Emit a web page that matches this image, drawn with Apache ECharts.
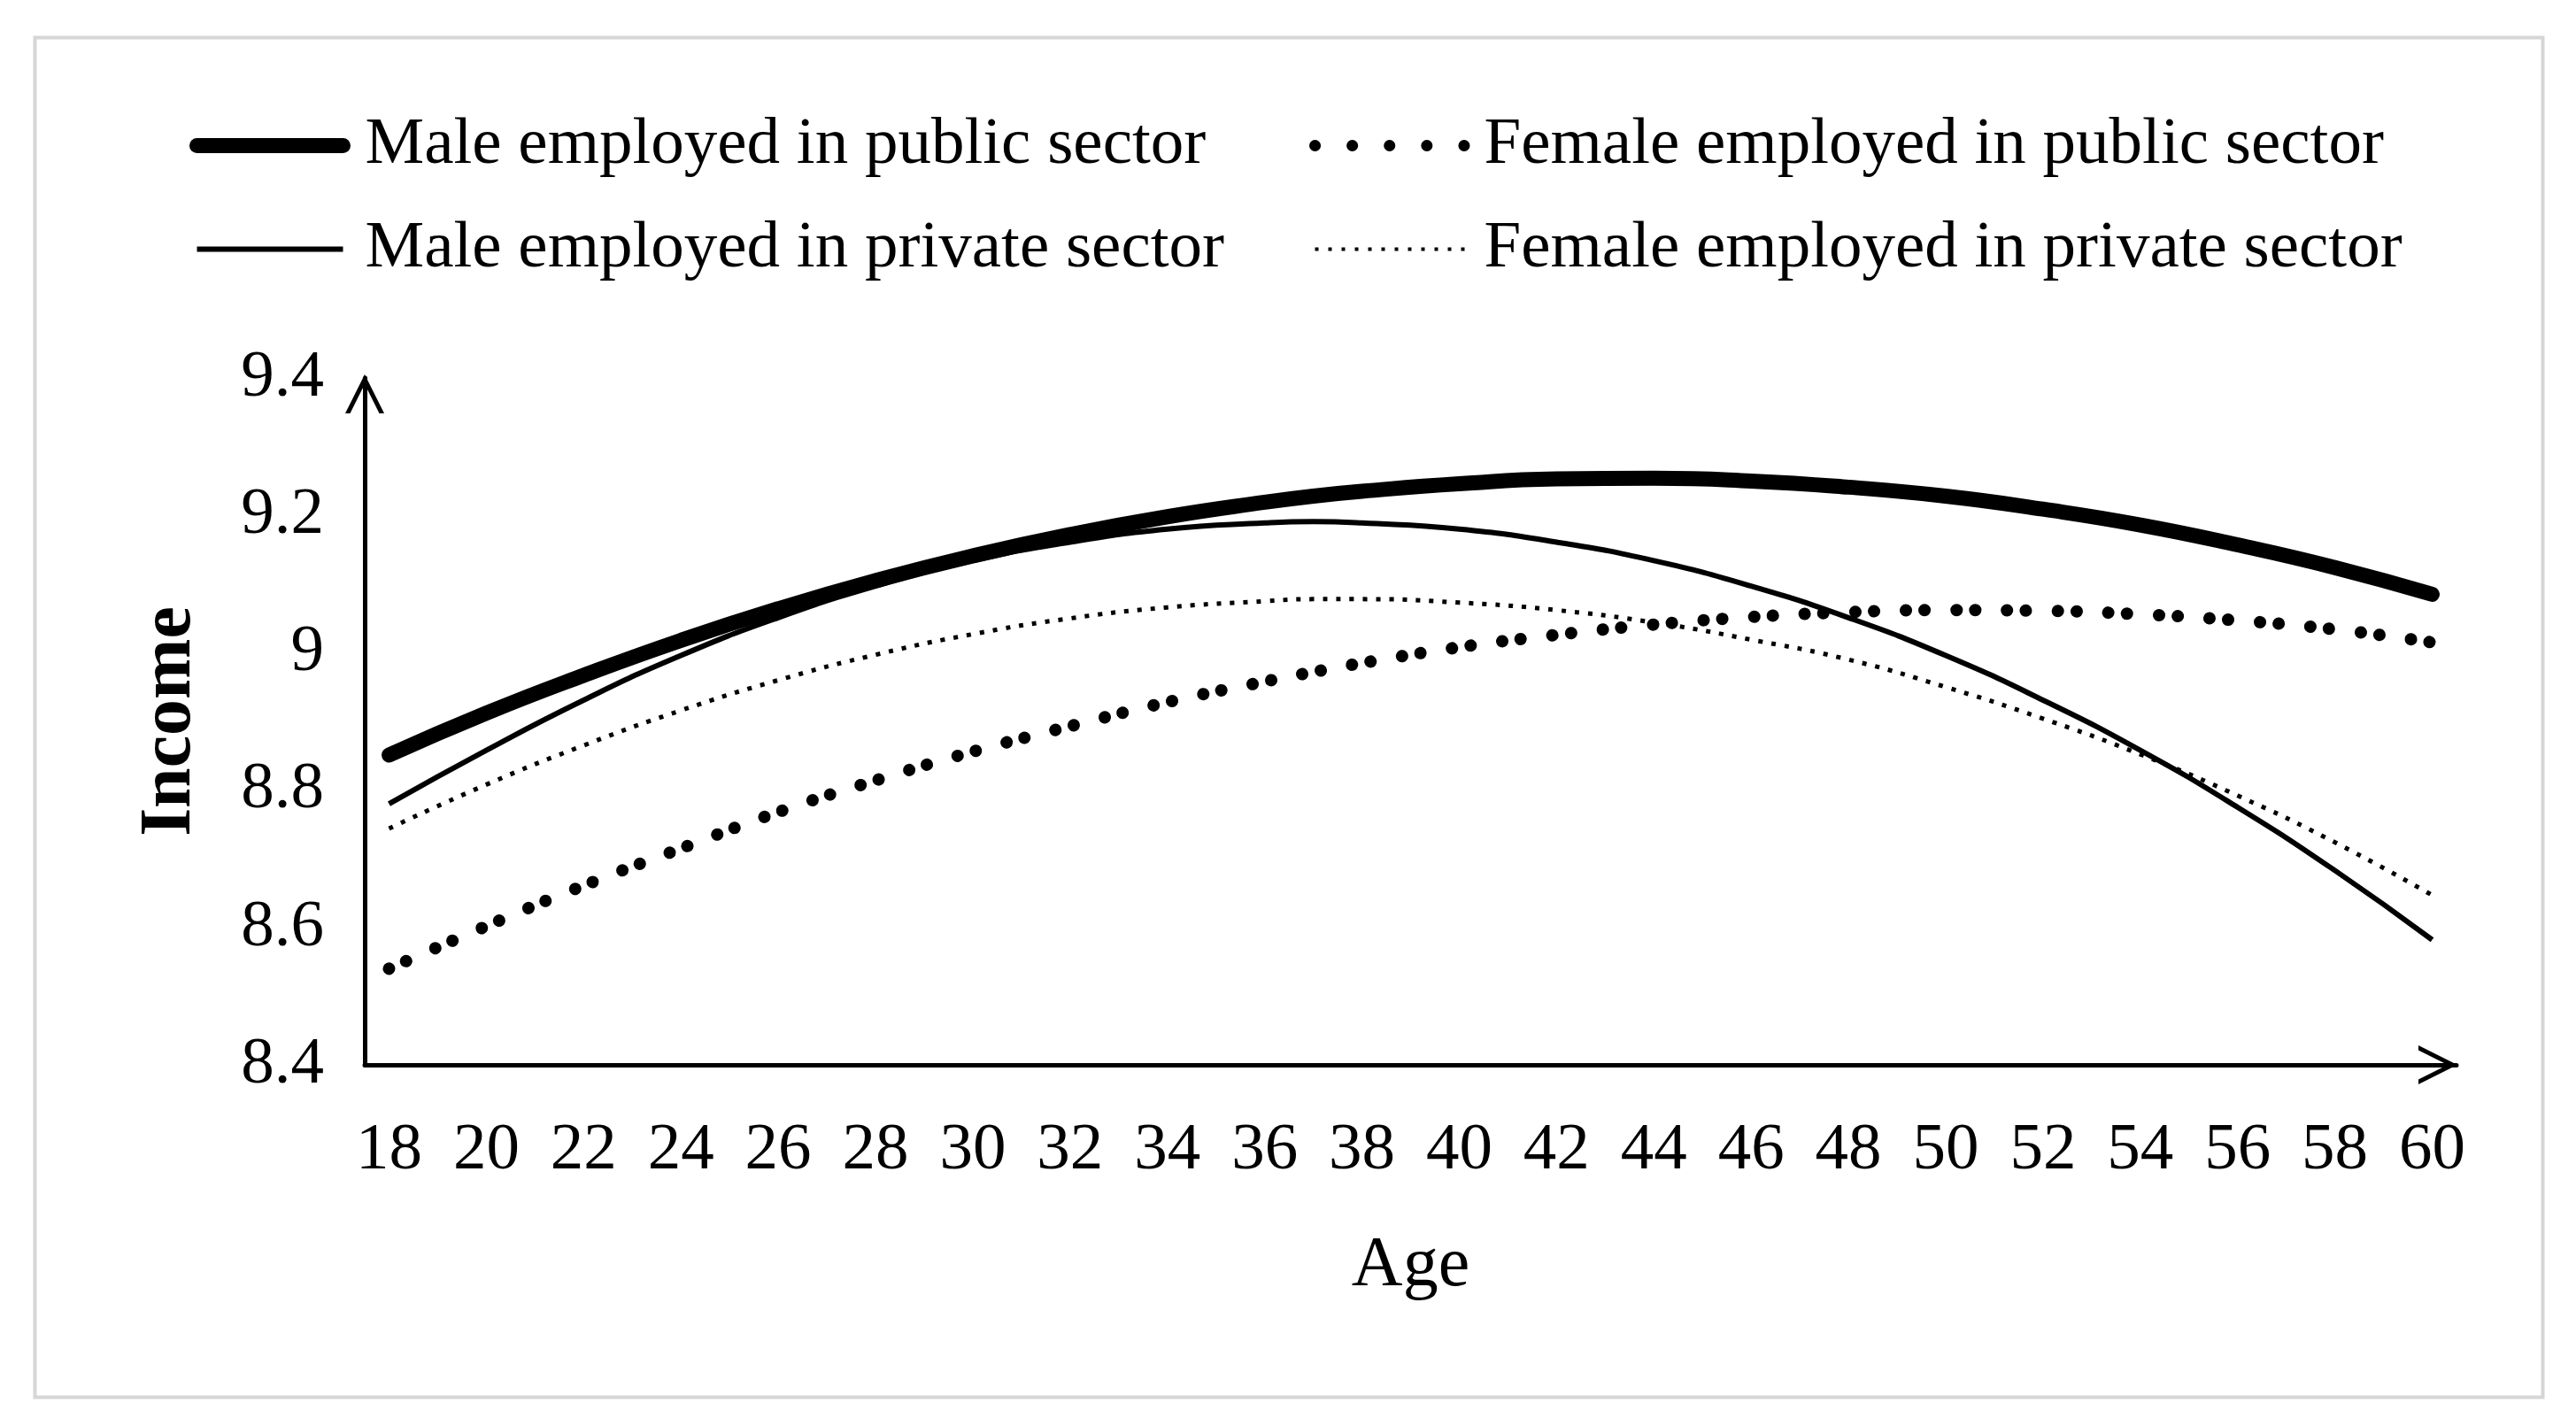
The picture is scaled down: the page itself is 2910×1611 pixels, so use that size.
<!DOCTYPE html>
<html>
<head>
<meta charset="utf-8">
<script src="https://cdn.jsdelivr.net/npm/echarts@6/dist/echarts.min.js"></script>
<style>
html,body{margin:0;padding:0;background:#ffffff;}
#chart{width:2910px;height:1611px;}
</style>
</head>
<body>
<div id="chart"></div>
<script>
// ---- data ----
const ages = [18,20,22,24,26,28,30,32,34,36,37,38,40,42,44,46,48,50,52,54,56,58,60];
const tickLabels = ['18','20','22','24','26','28','30','32','34','36','38','40','42','44','46','48','50','52','54','56','58','60'];
const yTickLabels = ['8.4','8.6','8.8','9','9.2','9.4'];
const seriesNames = ['Male employed in public sector','Female employed in public sector','Male employed in private sector','Female employed in private sector'];
const malePublic   = [8.851,8.912,8.967,9.018,9.064,9.105,9.141,9.172,9.198,9.219,9.228,9.235,9.246,9.253,9.254,9.250,9.241,9.228,9.209,9.186,9.157,9.124,9.085];
const malePrivate  = [8.780,8.858,8.931,8.996,9.051,9.097,9.134,9.161,9.180,9.189,9.191,9.189,9.180,9.161,9.134,9.097,9.051,8.996,8.931,8.858,8.775,8.683,8.582];
const femalePublic = [8.540,8.602,8.661,8.715,8.768,8.814,8.856,8.893,8.928,8.958,8.972,8.985,9.008,9.026,9.041,9.052,9.059,9.062,9.061,9.056,9.047,9.034,9.015];
const femalePrivate= [8.744,8.808,8.865,8.916,8.960,8.997,9.027,9.050,9.066,9.075,9.078,9.078,9.073,9.062,9.044,9.019,8.990,8.950,8.904,8.852,8.792,8.724,8.647];

const FONT = 'Liberation Serif, Times New Roman, serif';
const pair = arr => ages.map((a, i) => [a, arr[i]]);
const chevron = 'path://M0,40 L20,0 L40,40 L35,40 L20,10 L5,40 Z';

const chart = echarts.init(document.getElementById('chart'), null, {renderer: 'canvas'});
chart.setOption({
  backgroundColor: '#ffffff',
  animation: false,
  graphic: [{
    type: 'rect', left: 37, top: 40, z: -1,
    shape: {width: 2833, height: 1536},
    style: {fill: 'none', stroke: '#d6d6d6', lineWidth: 4}
  }],
  legend: [{
    orient: 'vertical', left: 209, top: 122,
    itemWidth: 165, itemHeight: 20, itemGap: 42,
    itemStyle: {opacity: 0},
    data: [
      {name: seriesNames[0], lineStyle: {width: 17, cap: 'round', type: 'solid', color: '#000'}},
      {name: seriesNames[2], lineStyle: {width: 6, type: 'solid', color: '#000'}}
    ],
    textStyle: {fontFamily: FONT, fontSize: 75, lineHeight: 75, color: '#000', padding: [0, 0, 0, 20]}
  }, {
    orient: 'vertical', left: 1474, top: 122,
    itemWidth: 172, itemHeight: 20, itemGap: 42,
    itemStyle: {opacity: 0},
    data: [
      {name: seriesNames[1], lineStyle: {width: 13, cap: 'round', type: [0.1, 42], color: '#000'}},
      {name: seriesNames[3], lineStyle: {width: 4, type: [4, 11], color: '#000'}}
    ],
    textStyle: {fontFamily: FONT, fontSize: 75, lineHeight: 75, color: '#000', padding: [0, 0, 0, 14]}
  }],
  grid: {left: 412, right: 135, top: 427, bottom: 408, containLabel: false},
  xAxis: {
    type: 'value', min: 17.5, max: 60.5, interval: 0.5,
    name: 'Age', nameLocation: 'middle', nameGap: 188,
    nameTextStyle: {fontFamily: FONT, fontSize: 80, color: '#000'},
    axisLine: {onZero: false, lineStyle: {color: '#000', width: 5},
      symbol: ['none', chevron], symbolSize: [46, 44], symbolOffset: [0, -21]},
    axisTick: {show: false},
    splitLine: {show: false},
    axisLabel: {
      margin: 60, fontFamily: FONT, fontSize: 75, color: '#000',
      formatter: v => { const s = String(Math.round(v)); return (Math.abs(v - Math.round(v)) < 1e-6 && tickLabels.includes(s)) ? s : ''; }
    }
  },
  yAxis: {
    type: 'value', min: 8.4, max: 9.4, interval: 0.2,
    name: 'Income', nameLocation: 'middle', nameGap: 178, nameRotate: 90,
    nameTextStyle: {fontFamily: FONT, fontSize: 82, fontWeight: 'bold', color: '#000'},
    axisLine: {show: true, onZero: false, lineStyle: {color: '#000', width: 5},
      symbol: ['none', chevron], symbolSize: [46, 44], symbolOffset: [0, -18]},
    axisTick: {show: false},
    splitLine: {show: false},
    axisLabel: {
      margin: 46, fontFamily: FONT, fontSize: 75, color: '#000',
      formatter: v => { const s = String(Math.round(v * 10) / 10); return yTickLabels.includes(s) ? s : ''; }
    }
  },
  series: [{
    name: seriesNames[0], type: 'line', data: pair(malePublic), smooth: true,
    symbol: 'none', lineStyle: {color: '#000', width: 17, cap: 'round'}, itemStyle: {color: '#000'}
  }, {
    name: seriesNames[1], type: 'line', data: pair(femalePublic), smooth: true,
    symbol: 'none', lineStyle: {color: '#000', width: 14, type: [0.1, 21, 0.1, 36], cap: 'round'}, itemStyle: {color: '#000'}
  }, {
    name: seriesNames[2], type: 'line', data: pair(malePrivate), smooth: true,
    symbol: 'none', lineStyle: {color: '#000', width: 6}, itemStyle: {color: '#000'}
  }, {
    name: seriesNames[3], type: 'line', data: pair(femalePrivate), smooth: true,
    symbol: 'none', lineStyle: {color: '#000', width: 5, type: [5, 10]}, itemStyle: {color: '#000'}
  }]
});
</script>
</body>
</html>
